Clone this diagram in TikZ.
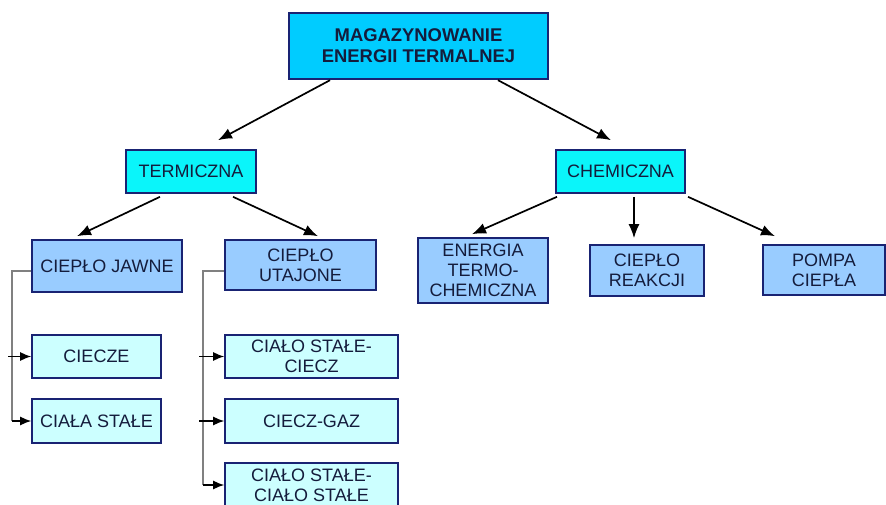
\documentclass[tikz,border=0pt]{standalone}
\usepackage{fontspec}
\setmainfont{Liberation Sans}
\usetikzlibrary{arrows.meta}

\definecolor{ramka}{RGB}{25,35,115}
\definecolor{tekst}{RGB}{20,28,60}
\definecolor{korzen}{RGB}{0,204,255}
\definecolor{poziom}{RGB}{10,245,250}
\definecolor{grupa}{RGB}{153,204,255}
\definecolor{lisc}{RGB}{204,255,255}
\definecolor{szary}{RGB}{128,128,128}

\begin{document}
\begin{tikzpicture}[
        x=1pt, y=-1pt, % координаты в пикселях рисунка
        font=\fontsize{18}{20}\selectfont,
        box/.style={draw=ramka, line width=1.6pt, text=tekst, align=center, inner sep=0pt}, % Стиль узлов
        arr/.style={line width=1.7pt, -{Latex[length=14pt,width=11pt]}},
        sarr/.style={line width=1.4pt, -{Latex[length=11pt,width=9pt]}},
        gline/.style={draw=szary, line width=1.8pt},
    ]
    \useasboundingbox (0,0) rectangle (886,505);

    % уровни
    \node[box, fill=korzen, line width=2.4pt, minimum width=259pt, minimum height=66pt, font=\fontsize{18.4}{21}\selectfont\bfseries] (root) at (418.5,46) {MAGAZYNOWANIE\\ENERGII TERMALNEJ};
    \node[box, fill=poziom, minimum width=130pt, minimum height=43pt] (term) at (191,171.5) {TERMICZNA};
    \node[box, fill=poziom, minimum width=129pt, minimum height=43pt] (chem) at (620.5,171.5) {CHEMICZNA};

    \node[box, fill=grupa, minimum width=150pt, minimum height=52pt] (jawne) at (107,266) {CIEPŁO JAWNE};
    \node[box, fill=grupa, minimum width=151pt, minimum height=50pt] (utaj) at (300.5,265) {CIEPŁO\\UTAJONE};
    \node[box, fill=grupa, minimum width=130pt, minimum height=65pt] (energ) at (483,270.5) {ENERGIA\\TERMO-\\CHEMICZNA};
    \node[box, fill=grupa, minimum width=114pt, minimum height=51pt] (reak) at (647,270.5) {CIEPŁO\\REAKCJI};
    \node[box, fill=grupa, minimum width=122pt, minimum height=50pt] (pompa) at (824,270) {POMPA\\CIEPŁA};

    \node[box, fill=lisc, minimum width=129pt, minimum height=43pt] (ciecze) at (96.5,356.5) {CIECZE};
    \node[box, fill=lisc, minimum width=129pt, minimum height=44pt] (stale) at (96.5,421) {CIAŁA STAŁE};
    \node[box, fill=lisc, minimum width=173pt, minimum height=43pt] (sc) at (311.5,356.5) {CIAŁO STAŁE-\\CIECZ};
    \node[box, fill=lisc, minimum width=173pt, minimum height=44pt] (gaz) at (311.5,421) {CIECZ-GAZ};
    \node[box, fill=lisc, minimum width=173pt, minimum height=44pt] (ss) at (311.5,485) {CIAŁO STAŁE-\\CIAŁO STAŁE};

    % стрелки
    \draw[arr] ([xshift=-88.5pt]root.south) -- ([xshift=27pt,yshift=9pt]term.north);
    \draw[arr] ([xshift=79.5pt]root.south) -- ([xshift=-9.5pt,yshift=9pt]chem.north);
    \draw[arr] ([xshift=-31pt,yshift=-3pt]term.south) -- ([xshift=-30pt,yshift=3pt]jawne.north);
    \draw[arr] ([xshift=42pt,yshift=-3pt]term.south) -- ([xshift=17.5pt,yshift=3pt]utaj.north);
    \draw[arr] ([xshift=-63.5pt,yshift=-3pt]chem.south) -- ([xshift=-11pt,yshift=3pt]energ.north);
    \draw[arr] ([xshift=13.5pt,yshift=-3pt]chem.south) -- ([xshift=-13pt,yshift=6pt]reak.north);
    \draw[arr] ([xshift=67.5pt,yshift=-3pt]chem.south) -- ([xshift=-49pt,yshift=8pt]pompa.north);

    % скобки слева
    \coordinate (jl) at (12,271);
    \coordinate (ul) at (203,271);
    \draw[gline] ([yshift=-5pt]jawne.west) -- (jl) -- (jl |- stale.west);
    \draw[sarr] ([xshift=-4pt]jl |- ciecze.west) -- (ciecze.west);
    \draw[sarr] (jl |- stale.west) -- (stale.west);
    \draw[gline] ([yshift=-6pt]utaj.west) -- (ul) -- (ul |- ss.west);
    \draw[sarr] ([xshift=-4pt]ul |- sc.west) -- (sc.west);
    \draw[sarr] ([xshift=-4pt]ul |- gaz.west) -- (gaz.west);
    \draw[sarr] (ul |- ss.west) -- (ss.west);
\end{tikzpicture}
\end{document}
